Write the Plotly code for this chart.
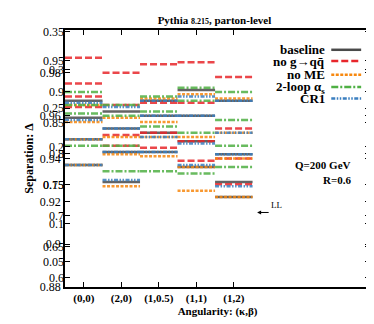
"""
Pythia 8.215 parton-level: separation per angularity for several shower settings.
Horizontal step segments, one per (angularity, setting, panel).
"""

import plotly.graph_objects as go

angularities = ["(0,0)", "(2,0)", "(1,0.5)", "(1,1)", "(1,2)"]
settings = ["baseline", "no g\u2192qq\u0304", "no ME", "2-loop \u03b1<sub>s</sub>", "CR1"]

# values per angularity bin, four overlaid panels (p1 top ... p4 bottom)
baseline_p1 = [0.967, 0.962, 0.967, 0.972, 0.967]
baseline_p2 = [0.959, 0.954, 0.960, 0.960, 0.942]
baseline_p3 = [0.949, 0.943, 0.952, 0.948, 0.929]
baseline_p4 = [0.937, 0.929, 0.943, 0.936, 0.922]

nogqq_p1 = [0.987, 0.980, 0.984, 0.985, 0.978]
nogqq_p2 = [0.975, 0.965, 0.966, 0.966, 0.954]
nogqq_p3 = [0.969, 0.951, 0.952, 0.948, 0.940]
nogqq_p4 = [0.964, 0.946, 0.945, 0.939, 0.928]

nome_p1 = [0.965, 0.959, 0.968, 0.970, 0.968]
nome_p2 = [0.957, 0.950, 0.957, 0.950, 0.952]
nome_p3 = [0.949, 0.942, 0.950, 0.936, 0.940]
nome_p4 = [0.937, 0.927, 0.941, 0.925, 0.922]

twoloop_p1 = [0.971, 0.965, 0.969, 0.973, 0.971]
twoloop_p2 = [0.965, 0.960, 0.962, 0.967, 0.958]
twoloop_p3 = [0.961, 0.946, 0.955, 0.952, 0.946]
twoloop_p4 = [0.946, 0.934, 0.934, 0.933, 0.936]

cr1_p1 = [0.966, 0.964, 0.967, 0.969, 0.967]
cr1_p2 = [0.958, 0.954, 0.960, 0.960, 0.952]
cr1_p3 = [0.949, 0.943, 0.950, 0.947, 0.942]
cr1_p4 = [0.937, 0.930, 0.943, 0.937, 0.927]

series = [
    ("baseline", [baseline_p1, baseline_p2, baseline_p3, baseline_p4], "#4a4a4a", "solid"),
    ("nogqq", [nogqq_p1, nogqq_p2, nogqq_p3, nogqq_p4], "#e8262b", "7px,3px"),
    ("nome", [nome_p1, nome_p2, nome_p3, nome_p4], "#f7880f", "3px,1.5px"),
    ("twoloop", [twoloop_p1, twoloop_p2, twoloop_p3, twoloop_p4], "#4fb044", "7px,2px,2px,2px"),
    ("cr1", [cr1_p1, cr1_p2, cr1_p3, cr1_p4], "#3b7fc0", "4px,1.5px,1.5px,1.5px,1.5px,1.5px"),
]

# overlaid axis tick labels (the panels share one frame)
ticks_a = [0.88, 0.9, 0.92, 0.94, 0.96, 0.98]
ticks_b = [0.6, 0.65, 0.7, 0.75, 0.8, 0.85, 0.9, 0.95]
ticks_c = [0.05, 0.1, 0.15, 0.2, 0.25, 0.3, 0.35]

SERIF = "Liberation Serif"

fig = go.Figure()

for name, panels, color, dash in series:
    for vals in panels:
        xs, ys = [], []
        for i, v in enumerate(vals):
            xs += [i - 0.5, i + 0.5, None]
            ys += [v, v, None]
        fig.add_trace(go.Scatter(
            x=xs, y=ys, mode="lines", showlegend=False,
            line=dict(color=color, width=2.5, dash=dash),
            opacity=0.85, hoverinfo="skip",
        ))

# dummy traces to carry the extra y axes
fig.add_trace(go.Scatter(x=[None], y=[None], yaxis="y2", showlegend=False))
fig.add_trace(go.Scatter(x=[None], y=[None], yaxis="y3", showlegend=False))

yax_common = dict(
    ticks="inside", ticklen=5, tickcolor="black", showgrid=False, zeroline=False,
    tickfont=dict(family=SERIF, size=12, color="black"),
)

fig.update_layout(
    width=374, height=324,
    paper_bgcolor="white", plot_bgcolor="white",
    margin=dict(l=57, r=10, t=22, b=45),
    font=dict(family=SERIF, color="black"),
    title=dict(
        text="<b>Pythia <span style='font-size:8px'>8.215</span>, parton-level</b>",
        xref="paper", x=0.49, xanchor="center", y=0.962, yanchor="middle",
        font=dict(family=SERIF, size=11),
    ),
    xaxis=dict(
        range=[-0.5, 7.63], tickvals=list(range(5)), ticktext=angularities,
        ticks="inside", ticklen=5, tickcolor="black", showgrid=False, zeroline=False,
        showline=True, linecolor="black", linewidth=1.5, mirror="ticks",
        tickfont=dict(family=SERIF, size=11, weight="bold"),
        title=dict(text="<b>Angularity: (\u03ba,\u03b2)</b>", standoff=2,
                   font=dict(family=SERIF, size=11)),
    ),
    yaxis=dict(
        range=[0.88, 1.0], tickvals=ticks_a, ticktext=[f"{t:g}" for t in ticks_a],
        showline=True, linecolor="black", linewidth=1.5, mirror="ticks",
        title=dict(text="<b>Separation: \u0394</b>", standoff=4,
                   font=dict(family=SERIF, size=12)),
        **yax_common,
    ),
    yaxis2=dict(
        range=[0.585, 1.0], tickvals=ticks_b, ticktext=[f"{t:g}" for t in ticks_b],
        overlaying="y", side="left", anchor="x", mirror="ticks", **yax_common,
    ),
    yaxis3=dict(
        range=[0.017, 0.352], tickvals=ticks_c, ticktext=[f"{t:g}" for t in ticks_c],
        overlaying="y", side="left", anchor="x", mirror="ticks", **yax_common,
    ),
)

# legend drawn at top right: right-aligned labels, swatch on the right
leg_y = [0.923, 0.879, 0.826, 0.778, 0.733]
for (name, _, color, dash), label, yy in zip(series, settings, leg_y):
    fig.add_annotation(
        x=0.86, y=yy, xref="paper", yref="paper", xanchor="right", yanchor="middle",
        text=f"<b>{label}</b>", showarrow=False, font=dict(family=SERIF, size=13),
    )
    fig.add_shape(
        type="line", xref="paper", yref="paper", x0=0.873, x1=0.971, y0=yy, y1=yy,
        line=dict(color=color, width=2.5, dash=dash),
    )

fig.add_annotation(x=0.945, y=0.475, xref="paper", yref="paper", xanchor="right",
                   text="<b>Q=200 GeV</b>", showarrow=False, font=dict(family=SERIF, size=11))
fig.add_annotation(x=0.945, y=0.417, xref="paper", yref="paper", xanchor="right",
                   text="<b>R=0.6</b>", showarrow=False, font=dict(family=SERIF, size=11))
fig.add_annotation(x=0.63, y=0.29, xref="paper", yref="paper", ax=13, ay=0,
                   text="", showarrow=True,
                   arrowhead=2, arrowsize=0.8, arrowwidth=1, arrowcolor="black")
fig.add_annotation(x=0.668, y=0.29, xref="paper", yref="paper", xanchor="left",
                   text="LL", showarrow=False, font=dict(family=SERIF, size=9))

fig.write_html("out.html")
